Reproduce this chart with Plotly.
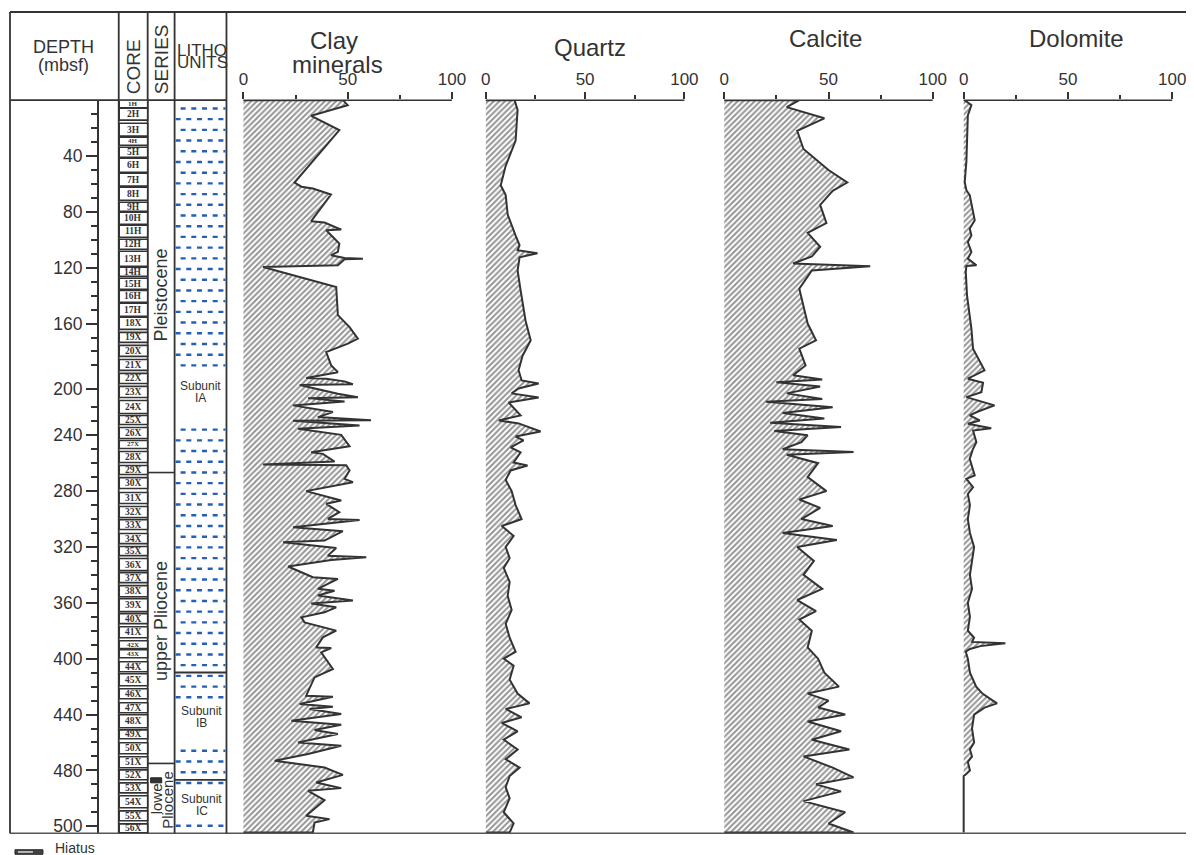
import plotly.graph_objects as go

W, H = 1194, 855
# observed page mapping: page = 8 + S * figure_px ; invert it so page pixels match the reference
OFF, SX, SY = 8, 0.989, 0.995
FONT = "Liberation Sans, Arial, sans-serif"
SERIF = "Liberation Serif, Times New Roman, serif"
INK = "#333333"
BLUE = "#2560b5"


def PX(x):
    return (x - OFF) / SX / W


def PY(y):
    return 1 - (y - OFF) / SY / H


# ---------------- data (depth in mbsf, value in %) ----------------
clay_depth = [0, 3.6, 11.2, 21.5, 59, 62, 63.3, 67.6, 86.7, 87.7, 92.7, 93.2, 102.7, 108.7, 111.1, 113,
              113.5, 114, 118.3, 119.5, 133.8, 154, 162.5, 170.8, 174.4, 180.4, 190, 194.8, 199, 199.5,
              201.4, 203.5, 204, 210.3, 212.7, 213.4, 215.8, 218.6, 223.4, 227, 229.2, 229.6, 233, 235.4,
              239.7, 247.8, 252.1, 253.3, 258.8, 261, 261.4, 265.2, 271.2, 273.6, 277.2, 280, 286.7, 289.1,
              295.1, 299.9, 300.6, 305.9, 308.7, 315.4, 316.6, 320.7, 326.2, 327.4, 329.3, 334, 341.7, 342.9,
              350, 351.3, 354.8, 358.4, 360.4, 363.2, 366.8, 370.4, 374, 379.9, 384.7, 391.9, 392.4, 395.5,
              407.4, 413.4, 426.5, 427.2, 432.4, 434.4, 436, 439.6, 444.4, 447.3, 451, 454, 460, 462.4,
              468.3, 473.1, 477.9, 483.2, 488.7, 492.7, 494.6, 501.3, 512.5, 514.9, 517.3, 524.5]
clay_pct = [47.7, 50, 32.5, 46, 24.5, 27.8, 33.3, 42, 32.5, 38.9, 46.9, 39.7, 46, 45.3, 42, 48.5,
            57.3, 48.5, 45.3, 9.4, 44.5, 45.3, 50.9, 54.9, 50.1, 39.7, 42.1, 45.3, 30.1, 39.7,
            48.5, 52.5, 27, 45.3, 54.9, 31, 48.5, 23.8, 42.9, 35.7, 61.2, 23.8, 55.7, 26.2,
            46.9, 50.9, 32.5, 38.1, 43.7, 9.4, 49.3, 50.9, 48.5, 52.5, 40.5, 30.1, 46.9, 39.7,
            46, 40.5, 55.7, 23.8, 47.7, 38.9, 19, 44.5, 40.5, 58.9, 42.1, 21.4, 33.3, 45.3,
            35.7, 43.7, 35.7, 52.5, 32.5, 44.5, 38.9, 27.8, 29.3, 44.5, 38.1, 34.9, 42.1, 37.3,
            42.9, 34.1, 30.1, 42.9, 27, 42.9, 31.7, 46.9, 23, 46.9, 34.1, 45.3, 26.2, 46.9,
            31, 15, 38.9, 47.7, 34.9, 46.9, 31, 38.9, 30.1, 41.3, 34.1, 33.3]

quartz_depth = [0, 7, 29, 47, 61, 68, 82, 97, 104, 107.5, 109.7, 112.5, 122, 136, 158, 172, 183, 193.5,
                200.7, 202.9, 206.5, 210, 212.9, 216.5, 225.8, 229.4, 231.5, 237.3, 240.9, 243.7, 248.7,
                252.3, 259.5, 261.6, 265.2, 272, 280, 290, 300, 305, 312, 320, 328, 335, 345, 355, 365,
                375, 385, 395, 400, 405, 415, 425, 432, 436, 442, 446, 452, 458, 465, 472, 478, 484, 492,
                500, 510, 518, 524.5]
quartz_pct = [14.5, 16, 15, 10, 7.5, 10, 11, 15, 17, 16, 26, 17, 16, 17.5, 20, 22.6, 18.5, 16.5,
              18, 26.6, 16.5, 13, 26.6, 11.5, 17.5, 6.5, 16.5, 27.6, 15, 19, 12.5,
              17.5, 14, 21, 12.5, 10, 13, 15, 18, 8, 14, 10, 12, 9, 12, 11, 13,
              10, 12, 15, 9, 14, 12, 16, 22, 10, 18, 8, 16, 9, 16, 10, 17, 12, 10,
              12, 9, 14, 12]

calcite_depth = [0, 5, 13, 22, 35, 50, 59, 65, 75, 88, 95, 105, 112, 117, 119, 122, 135, 160, 172, 178,
                 190, 197, 200, 202, 205, 210, 214, 216, 220, 224, 228, 231, 234, 237, 240, 245, 250, 252,
                 254, 260, 270, 280, 286, 292, 300, 305, 310, 315, 320, 330, 340, 350, 358, 366, 372, 380,
                 392, 400, 410, 420, 425, 430, 435, 440, 445, 452, 458, 465, 470, 478, 485, 490, 495, 502,
                 510, 518, 524.5]
calcite_pct = [36, 30, 48, 35, 38, 50, 59, 52, 46, 49, 40, 46, 42, 33, 70, 42, 36, 40, 44, 36,
               39, 33, 47, 25, 46, 30, 47, 20, 52, 28, 48, 22, 56, 24, 40, 37, 28, 62,
               30, 45, 40, 49, 36, 46, 37, 52, 28, 54, 35, 43, 38, 47, 35, 44, 36, 42,
               40, 45, 48, 55, 40, 50, 45, 58, 40, 56, 42, 60, 38, 52, 62, 44, 56, 38,
               58, 50, 62]

dolomite_depth = [0, 3.6, 11, 44, 58.6, 64.5, 68, 86, 92, 96.8, 101.6, 108.7, 113.5, 118.3, 118.8, 123,
                  139.8, 163.7, 178, 193.5, 199.5, 202.4, 209.1, 212.7, 218.6, 223, 225.8, 229.4, 231.8,
                  234.9, 236.6, 244.9, 249.7, 256.9, 268.8, 271.2, 277.2, 282, 290, 300, 310, 320, 330,
                  340, 350, 360, 370, 380, 385, 388, 389, 391, 393, 395, 400, 410, 420, 425, 430, 432,
                  435, 440, 450, 460, 465, 470, 474, 480, 483, 484, 524.5]
dolomite_pct = [0.5, 3.7, 2, 1.3, 0.5, 1.3, 2.9, 5.3, 2.9, 3.7, 2, 3.7, 2, 6.1, 1.3, 1,
                1.6, 3.7, 4.5, 10, 2, 9.3, 8.5, 1.3, 14.8, 6.9, 2.9, 7.7, 2,
                13.2, 4.5, 6.1, 4.5, 2.9, 5.3, 1.3, 4.5, 2, 3, 2, 3, 5, 4,
                3, 4, 2, 3, 2, 5, 4, 20, 8, 3, 1, 2, 3, 6, 9, 14, 16,
                10, 5, 4, 5, 3, 4, 2, 3, 1, 0, 0]

panel_titles = ["Clay<br>minerals", "Quartz", "Calcite", "Dolomite"]

core_names = ["1H", "2H", "3H", "4H", "5H", "6H", "7H", "8H", "9H", "10H", "11H", "12H", "13H", "14H",
              "15H", "16H", "17H", "18X", "19X", "20X", "21X", "22X", "23X", "24X", "25X", "26X", "27X",
              "28X", "29X", "30X", "31X", "32X", "33X", "34X", "35X", "36X", "37X", "38X", "39X", "40X",
              "41X", "42X", "43X", "44X", "45X", "46X", "47X", "48X", "49X", "50X", "51X", "52X", "53X",
              "54X", "55X", "56X"]
core_top = [0, 5.7, 16.5, 26.5, 33.7, 41.6, 52.3, 62.4, 73.1, 80.3, 89.6, 99.6, 108.2, 119.7, 127.6,
            136.2, 145.5, 155.5, 166.3, 175.6, 185.7, 195.7, 205.0, 215.1, 225.8, 234.4, 243.7, 251.6,
            261.6, 270.3, 281.0, 291.0, 300.4, 310.4, 319.7, 328.3, 338.4, 347.7, 357.0, 367.7, 377.1,
            387.1, 393.5, 402.2, 410.8, 421.5, 431.5, 440.1, 451.0, 460.2, 470.2, 479.6, 488.9, 498.2,
            509.0, 518.3]
core_bot = [5.5, 14.3, 25.8, 32.3, 40.9, 51.6, 61.6, 71.7, 79.6, 88.9, 98.2, 106.8, 119.0, 126.2, 135.5,
            144.8, 154.8, 164.2, 173.5, 183.5, 193.5, 202.9, 212.9, 224.4, 232.3, 242.3, 249.5, 259.5,
            268.1, 278.1, 288.9, 298.9, 307.5, 317.6, 326.2, 336.9, 345.5, 355.6, 366.3, 374.9, 385.0,
            392.8, 399.3, 409.3, 419.4, 428.7, 438.7, 449.5, 457.3, 468.1, 478.1, 486.7, 496.1, 506.8,
            516.1, 524.7]

depth_major_vals = [40, 80, 120, 160, 207, 240, 280, 320, 360, 400, 440, 480, 520]
depth_major_text = ["40", "80", "120", "160", "200", "240", "280", "320", "360", "400", "440", "480", "500"]
depth_minor_vals = [d for d in range(10, 520, 10) if d % 40 != 0 and d != 210]

series_bounds = [266.7, 475.0]
litho_bounds = [409.9, 486.8]
hiatus_depth = [485.3, 488.9]

DEPTH_MAX = 525.0
TOP_PX, BOT_PX = 100, 832

# ---------------- figure ----------------
fig = go.Figure()

panels = [(clay_depth, clay_pct), (quartz_depth, quartz_pct),
          (calcite_depth, calcite_pct), (dolomite_depth, dolomite_pct)]
panel_px = [(242, 451), (485, 684), (724, 933), (964, 1173)]
title_pos = [(335, 52), (589, 47), (825, 38), (1077, 38)]

for i, (dep, val) in enumerate(panels):
    xs = [0] + list(val) + [0]
    ys = [dep[0]] + list(dep) + [dep[-1]]
    fig.add_trace(go.Scatter(
        x=xs, y=ys, xaxis="x" if i == 0 else f"x{i+1}", yaxis="y",
        mode="lines", fill="toself", fillcolor="white",
        fillpattern=dict(shape="/", fgcolor="#2a2a2a", bgcolor="white", size=4, solidity=0.5),
        line=dict(color=INK, width=2), hoverinfo="skip", showlegend=False))

layout = dict(
    width=W, height=H, margin=dict(l=0, r=0, t=0, b=0),
    paper_bgcolor="white", plot_bgcolor="white", showlegend=False,
    font=dict(family=FONT, color=INK),
    yaxis=dict(domain=[PY(BOT_PX), PY(TOP_PX)], range=[DEPTH_MAX, 0], anchor="free", position=PX(96),
               side="left", showline=True, linecolor=INK, linewidth=1.5, ticks="outside", ticklen=11,
               tickwidth=1.5, tickcolor=INK, tickmode="array", tickvals=depth_major_vals,
               ticktext=depth_major_text, tickfont=dict(size=17.5, color=INK, family=FONT),
               minor=dict(tickmode="array", tickvals=depth_minor_vals, ticks="outside", ticklen=6,
                          tickwidth=1.5, tickcolor=INK),
               showgrid=False, zeroline=False, fixedrange=True),
)

axpad = 1.2
for i, (a, b) in enumerate(panel_px):
    name = "xaxis" if i == 0 else f"xaxis{i+1}"
    unit = (b - a) / 100.0
    layout[name] = dict(
        domain=[PX(a - axpad * unit), PX(b)], range=[-axpad, 100], anchor="y", side="top",
        showline=False, ticks="outside", ticklen=7, tickwidth=1.5, tickcolor=INK,
        tickmode="array", tickvals=[0, 50, 100],
        minor=dict(tickmode="array", tickvals=[25, 75], ticks="outside", ticklen=4, tickwidth=1.5,
                   tickcolor=INK),
        tickfont=dict(size=17, color=INK, family=FONT),
        showgrid=False, zeroline=False, fixedrange=True)

fig.update_layout(**layout)

shapes = []
ann = []


def pline(x0, y0, x1, y1, w=1.5, color=INK, dash=None):
    d = dict(type="line", xref="paper", yref="paper", x0=PX(x0), y0=PY(y0), x1=PX(x1), y1=PY(y1),
             line=dict(color=color, width=w))
    if dash:
        d["line"]["dash"] = dash
    shapes.append(d)


def text(x, y, s, size, angle=0, xanchor="center", family=FONT, color=INK):
    ann.append(dict(xref="paper", yref="paper", x=PX(x), y=PY(y), text=s, showarrow=False,
                    font=dict(size=size, family=family, color=color), textangle=angle,
                    xanchor=xanchor, yanchor="middle"))


# frame
pline(8, 12, 1210, 12, w=1.8)
pline(8, BOT_PX, 1210, BOT_PX, w=1.5, color="#555")
pline(8, 12, 8, BOT_PX, w=1.8)
pline(8, 100, 225, 100, w=1.8)
for xv in (117, 146, 173, 225):
    pline(xv, 12, xv, BOT_PX, w=1.8)

# panel top axis lines
for a, b in panel_px:
    pline(a, 100, b, 100, w=1.5)

# header texts
text(62, 47, "DEPTH", 18)
text(62, 65, "(mbsf)", 18)
text(131.5, 67, "CORE", 19, angle=-90)
text(159.5, 59, "SERIES", 19, angle=-90)
text(173.5, 50, "LITHO", 17, xanchor="left")
text(173.5, 62.5, "UNITS", 17, xanchor="left")

for (tx, ty), t in zip(title_pos, panel_titles):
    if "<br>" in t:
        a, b = t.split("<br>")
        text(tx - 2, 40, a, 24)
        text(tx + 1.5, 64, b, 24)
    else:
        text(tx, ty, t, 24)

# cores
for nm, t, b in zip(core_names, core_top, core_bot):
    shapes.append(dict(type="rect", xref="paper", yref="y", x0=PX(117.5), x1=PX(146), y0=t, y1=b,
                       line=dict(color=INK, width=1.6), fillcolor="white"))
    ann.append(dict(xref="paper", yref="y", x=PX(131.5), y=(t + b) / 2, text="<b>%s</b>" % nm,
                    showarrow=False, font=dict(size=9.5 if (b - t) > 6 else 7, family=SERIF, color=INK),
                    xanchor="center", yanchor="middle"))

# series
for d in series_bounds:
    shapes.append(dict(type="line", xref="paper", yref="y", x0=PX(146), x1=PX(173), y0=d, y1=d,
                       line=dict(color=INK, width=1.6)))
text(159.5, 295, "Pleistocene", 18, angle=-90)
text(159.5, 620, "upper Pliocene", 18, angle=-90)
text(154.5, 795, "lower", 15, angle=-90)
text(166, 799, "Pliocene", 15, angle=-90)

# hiatus symbols
shapes.append(dict(type="rect", xref="paper", yref="y", x0=PX(149), x1=PX(160), y0=hiatus_depth[0],
                   y1=hiatus_depth[1], line=dict(color="#222", width=1), fillcolor="#333"))
shapes.append(dict(type="rect", xref="paper", yref="paper", x0=PX(13), x1=PX(41), y0=PY(853),
                   y1=PY(848.5), line=dict(color="#222", width=1), fillcolor="#444"))
shapes.append(dict(type="line", xref="paper", yref="paper", x0=PX(16), x1=PX(31), y0=PY(850.7),
                   y1=PY(850.7), line=dict(color="white", width=1.2)))
text(51, 847, "Hiatus", 14, xanchor="left")

# litho units: dashed clay pattern
blank_rows = set(range(25, 30)) | set(range(56, 60)) | set(range(64, 67))
k = 0
while True:
    yv = 108.3 + 10.69 * k
    if yv > 829:
        break
    if k not in blank_rows:
        x0 = 179 if k % 2 == 0 else 174
        pline(x0, yv, 224, yv, w=2.4, color=BLUE, dash="5px,5.7px")
    k += 1

for d in litho_bounds:
    shapes.append(dict(type="line", xref="paper", yref="y", x0=PX(173), x1=PX(225), y0=d, y1=d,
                       line=dict(color=INK, width=1.8)))
text(199, 385, "Subunit", 12)
text(199, 397, "IA", 12)
text(200, 710, "Subunit", 12)
text(200, 722, "IB", 12)
text(200, 798, "Subunit", 12)
text(200, 809.5, "IC", 12)

fig.update_layout(shapes=shapes, annotations=ann)
fig.write_html("out.html")
